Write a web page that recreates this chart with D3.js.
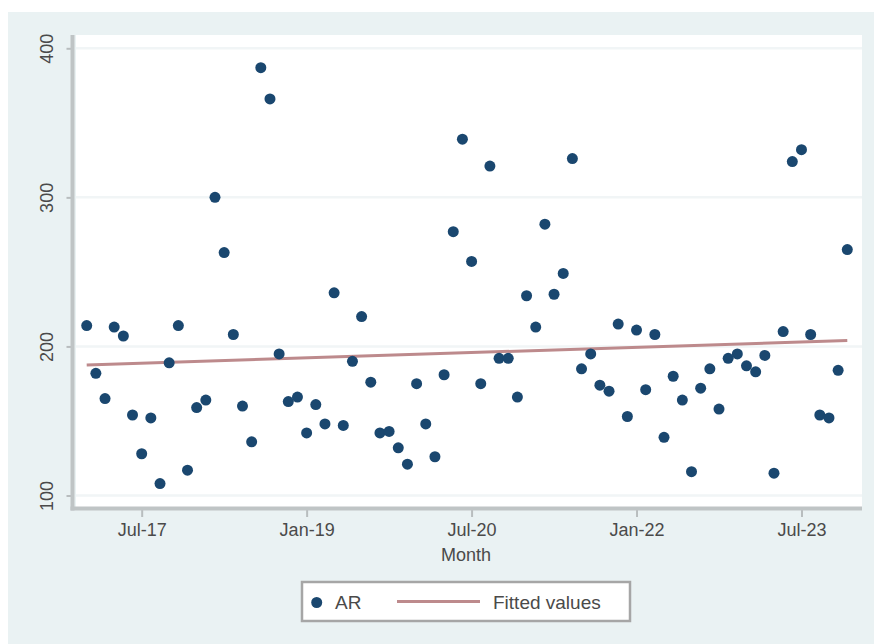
<!DOCTYPE html>
<html><head><meta charset="utf-8">
<script src="https://cdn.jsdelivr.net/npm/d3@7"></script>
<style>html,body{margin:0;padding:0;background:#fff;}svg{display:block;}</style>
</head><body>
<svg id="chart" width="874" height="644"></svg>
<script>
// Month categories (Jan 2017 .. Dec 2023)
const months = [
 "2017-01","2017-02","2017-03","2017-04","2017-05","2017-06","2017-07","2017-08","2017-09","2017-10","2017-11","2017-12",
 "2018-01","2018-02","2018-03","2018-04","2018-05","2018-06","2018-07","2018-08","2018-09","2018-10","2018-11","2018-12",
 "2019-01","2019-02","2019-03","2019-04","2019-05","2019-06","2019-07","2019-08","2019-09","2019-10","2019-11","2019-12",
 "2020-01","2020-02","2020-03","2020-04","2020-05","2020-06","2020-07","2020-08","2020-09","2020-10","2020-11","2020-12",
 "2021-01","2021-02","2021-03","2021-04","2021-05","2021-06","2021-07","2021-08","2021-09","2021-10","2021-11","2021-12",
 "2022-01","2022-02","2022-03","2022-04","2022-05","2022-06","2022-07","2022-08","2022-09","2022-10","2022-11","2022-12",
 "2023-01","2023-02","2023-03","2023-04","2023-05","2023-06","2023-07","2023-08","2023-09","2023-10","2023-11","2023-12"
];
// AR values
const arValues = [
 214,182,165,213,207,154,128,152,108,189,214,117,
 159,164,300,263,208,160,136,387,366,195,163,166,
 142,161,148,236,147,190,220,176,142,143,132,121,
 175,148,126,181,277,339,257,175,321,192,192,166,
 234,213,282,235,249,326,185,195,174,170,215,153,
 211,171,208,139,180,164,116,172,185,158,192,195,
 187,183,194,115,210,324,332,208,154,152,184,265
];
const yTicks = [100,200,300,400];
const xTickMonths = ["2017-07","2019-01","2020-07","2022-01","2023-07"];
const xTickLabels = ["Jul-17","Jan-19","Jul-20","Jan-22","Jul-23"];
const xTitle = "Month";
const legendLabels = ["AR","Fitted values"];

const svg = d3.select("#chart");
const font = "'Liberation Sans', Arial, sans-serif";
const textCol = "#4a4a4a";
const navy = "#1a476f";
const fitCol = "#bd8a8c";

const data = months.map((m,i)=>({m, i, v: arValues[i]}));

// OLS fit
const n = data.length;
const mx = d3.mean(data, d=>d.i), my = d3.mean(data, d=>d.v);
const b = d3.sum(data, d=>(d.i-mx)*(d.v-my)) / d3.sum(data, d=>(d.i-mx)*(d.i-mx));
const a = my - b*mx;

const x = d3.scaleLinear().domain([0, months.length-1]).range([86.7, 847.3]);
const y = d3.scaleLinear().domain([100,400]).range([495.5, 48.3]);

// graph region
svg.append("rect").attr("x",8).attr("y",12).attr("width",866).attr("height",632).attr("fill","#eaf2f3");
// plot region
const pL=76, pR=862, pT=35, pB=507;
svg.append("rect").attr("x",pL).attr("y",pT).attr("width",pR-pL).attr("height",pB-pT).attr("fill","#ffffff");

// gridlines
svg.append("g").selectAll("line").data(yTicks).join("line")
  .attr("x1",pL).attr("x2",pR).attr("y1",d=>y(d)).attr("y2",d=>y(d))
  .attr("stroke","#f1f5f6").attr("stroke-width",2.5);

// y axis
const yAxis = d3.axisLeft(y).tickValues(yTicks).tickSize(6).tickPadding(10);
const gy = svg.append("g").attr("transform",`translate(${72.5},0)`).call(yAxis);
gy.select(".domain").remove();
gy.selectAll(".tick line").attr("stroke","#b8bdbe").attr("stroke-width",2);
gy.selectAll(".tick text")
  .attr("x",0).attr("y",0).attr("dy",null)
  .attr("text-anchor","middle")
  .attr("transform","translate(-20,0) rotate(-90)")
  .attr("font-family",font).attr("font-size",18).attr("fill",textCol);
svg.append("line").attr("x1",72.5).attr("x2",72.5).attr("y1",pT).attr("y2",510.5)
  .attr("stroke","#bfc4c5").attr("stroke-width",4);

// x axis
const xAxis = d3.axisBottom(x).tickValues(xTickMonths.map(m=>months.indexOf(m)))
  .tickFormat((d,i)=>xTickLabels[i]).tickSize(8).tickPadding(6);
const gx = svg.append("g").attr("transform",`translate(0,${509})`).call(xAxis);
gx.select(".domain").remove();
gx.selectAll(".tick line").attr("stroke","#b8bdbe").attr("stroke-width",2);
gx.selectAll(".tick text").attr("font-family",font).attr("font-size",18).attr("fill",textCol);
svg.append("line").attr("x1",70.5).attr("x2",pR).attr("y1",508.5).attr("y2",508.5)
  .attr("stroke","#bfc4c5").attr("stroke-width",4);

svg.append("text").attr("x",466).attr("y",561).attr("text-anchor","middle")
  .attr("font-family",font).attr("font-size",18).attr("fill",textCol).text(xTitle);

// fitted line
const fitLine = d3.line().x(d=>x(d.i)).y(d=>y(a+b*d.i));
svg.append("path").datum([data[0], data[n-1]]).attr("d",fitLine)
  .attr("fill","none").attr("stroke",fitCol).attr("stroke-width",3);

// points
svg.append("g").selectAll("circle").data(data).join("circle")
  .attr("cx",d=>x(d.i)).attr("cy",d=>y(d.v)).attr("r",5.5).attr("fill",navy);

// legend
const lg = svg.append("g");
lg.append("rect").attr("x",302).attr("y",582).attr("width",328).attr("height",39)
  .attr("fill","#fff").attr("stroke","#a6a6a6").attr("stroke-width",2.5);
lg.append("circle").attr("cx",316.7).attr("cy",602.5).attr("r",5.5).attr("fill",navy);
lg.append("text").attr("x",335).attr("y",609).attr("font-family",font).attr("font-size",19)
  .attr("fill",textCol).text(legendLabels[0]);
lg.append("line").attr("x1",397).attr("x2",480).attr("y1",601.5).attr("y2",601.5)
  .attr("stroke",fitCol).attr("stroke-width",3);
lg.append("text").attr("x",493).attr("y",609).attr("font-family",font).attr("font-size",19)
  .attr("fill",textCol).text(legendLabels[1]);
</script>
</body></html>
